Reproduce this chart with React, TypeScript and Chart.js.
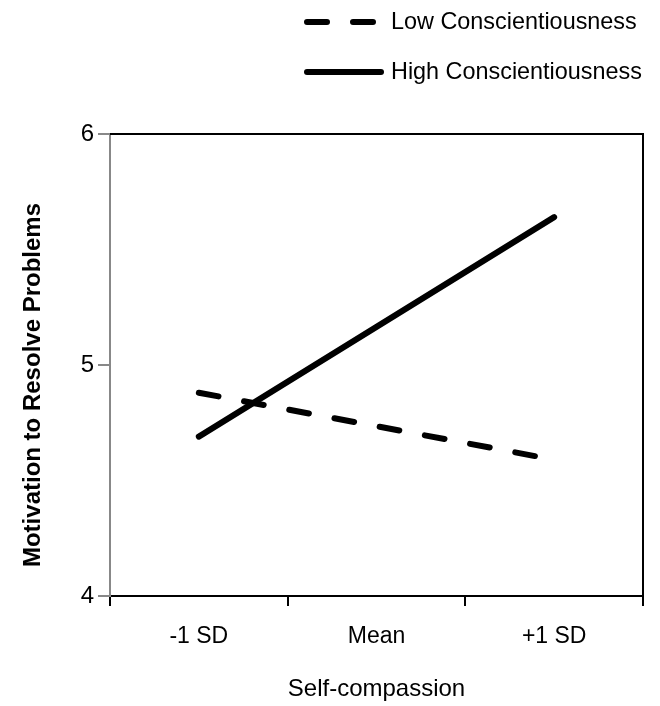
import React, { useEffect, useRef } from "react";
import { Chart, registerables } from "chart.js";

Chart.register(...registerables);

const categories = ["-1 SD", "Mean", "+1 SD"];
const lowConscientiousness = [4.88, 4.735, 4.59];
const highConscientiousness = [4.69, 5.165, 5.64];
const yTicks = [4, 5, 6];
const seriesLabels = ["Low Conscientiousness", "High Conscientiousness"];
const xTitle = "Self-compassion";
const yTitle = "Motivation to Resolve Problems";

const FONT = "'Liberation Sans', Arial, sans-serif";
const DASH = [20, 26];

const framePlugin = {
  id: "frame",
  afterDraw(chart: any) {
    const { ctx, chartArea } = chart;
    ctx.save();
    // top and right border of the plot box
    ctx.strokeStyle = "#000";
    ctx.lineWidth = 2;
    ctx.beginPath();
    ctx.moveTo(chartArea.left, chartArea.top);
    ctx.lineTo(chartArea.right, chartArea.top);
    ctx.lineTo(chartArea.right, chartArea.bottom);
    ctx.stroke();

    // y axis title
    ctx.fillStyle = "#000";
    ctx.font = `bold 24px ${FONT}`;
    ctx.textAlign = "center";
    ctx.textBaseline = "middle";
    ctx.translate(33, 385);
    ctx.rotate(-Math.PI / 2);
    ctx.fillText(yTitle, 0, 0);
    ctx.restore();

    // legend
    ctx.save();
    const rows = [22, 72];
    chart.data.datasets.forEach((ds: any, i: number) => {
      const y = rows[i];
      ctx.strokeStyle = ds.borderColor;
      ctx.lineWidth = ds.borderWidth;
      ctx.lineCap = "round";
      ctx.setLineDash(ds.borderDash || []);
      ctx.beginPath();
      ctx.moveTo(307, y);
      ctx.lineTo(381, y);
      ctx.stroke();
      ctx.setLineDash([]);
      ctx.fillStyle = "#000";
      ctx.font = `23.4px ${FONT}`;
      ctx.textAlign = "left";
      ctx.textBaseline = "middle";
      ctx.fillText(ds.label, 391, y + 1);
    });
    ctx.restore();
  },
};

export default function App() {
  const ref = useRef<HTMLCanvasElement | null>(null);

  useEffect(() => {
    if (!ref.current) return;
    const chart = new Chart(ref.current, {
      type: "line",
      data: {
        labels: categories,
        datasets: [
          {
            label: seriesLabels[0],
            data: lowConscientiousness,
            borderColor: "#000",
            borderWidth: 6,
            borderDash: DASH,
            borderCapStyle: "round",
            pointRadius: 0,
            fill: false,
          },
          {
            label: seriesLabels[1],
            data: highConscientiousness,
            borderColor: "#000",
            borderWidth: 6,
            borderCapStyle: "round",
            pointRadius: 0,
            fill: false,
          },
        ],
      },
      options: {
        responsive: false,
        animation: false,
        devicePixelRatio: 1,
        layout: { padding: { top: 134, right: 17, left: 0, bottom: 0 } },
        plugins: {
          legend: { display: false },
          tooltip: { enabled: false },
        },
        scales: {
          x: {
            type: "category",
            offset: true,
            grid: {
              display: true,
              offset: true,
              drawOnChartArea: false,
              drawTicks: true,
              tickLength: 10,
              color: "#000",
              lineWidth: 2,
            },
            border: { display: true, color: "#000", width: 2 },
            ticks: {
              color: "#000",
              padding: 17,
              maxRotation: 0,
              font: { family: FONT, size: 23 },
            },
            title: {
              display: true,
              text: xTitle,
              color: "#000",
              font: { family: FONT, size: 24 },
              padding: { top: 0, bottom: 2 },
            },
            afterFit: (s: any) => {
              s.height = 110;
            },
          },
          y: {
            min: 4,
            max: 6,
            afterBuildTicks: (s: any) => {
              s.ticks = yTicks.map((v) => ({ value: v }));
            },
            grid: {
              display: true,
              drawOnChartArea: false,
              drawTicks: true,
              tickLength: 12,
              color: "#888",
              lineWidth: 2,
            },
            border: { display: true, color: "#888", width: 2 },
            ticks: {
              color: "#000",
              padding: 4,
              font: { family: FONT, size: 24 },
            },
            afterFit: (s: any) => {
              s.width = 110;
            },
          },
        },
      },
      plugins: [framePlugin],
    });
    return () => chart.destroy();
  }, []);

  return (
    <div style={{ position: "fixed", left: 0, top: 0, width: 660, height: 706, background: "#fff" }}>
      <canvas ref={ref} width={660} height={706} style={{ display: "block" }} />
    </div>
  );
}
